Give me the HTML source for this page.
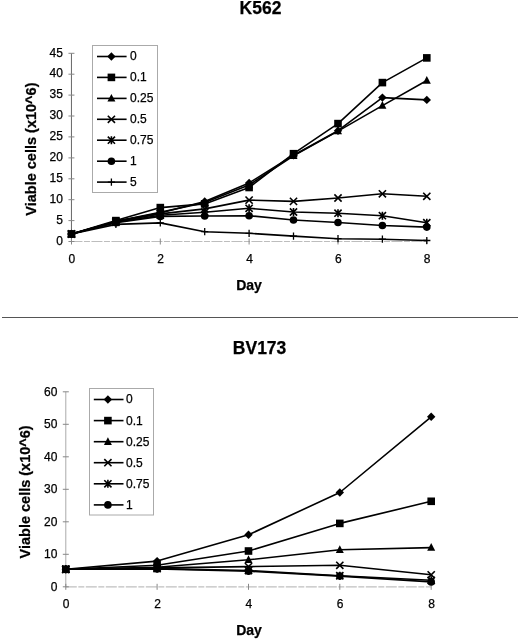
<!DOCTYPE html>
<html><head><meta charset="utf-8"><style>
html,body{margin:0;padding:0;background:#fff;}
body{width:520px;height:641px;overflow:hidden;font-family:"Liberation Sans",sans-serif;}
svg{display:block;filter:grayscale(1);}
</style></head><body>
<svg width="520" height="641" viewBox="0 0 520 641">
<rect width="520" height="641" fill="#fff"/>
<line x1="71.45" y1="53.3" x2="71.45" y2="241.5" stroke="#666" stroke-width="1"/>
<line x1="71.45" y1="241.5" x2="426.8" y2="241.5" stroke="#bdbdbd" stroke-width="1.2" stroke-dasharray="11 1.5 6 1.5"/>
<line x1="68.45" y1="241.5" x2="74.45" y2="241.5" stroke="#888" stroke-width="1"/>
<text x="62.85" y="244.7" text-anchor="end" font-size="12" font-family="Liberation Sans, sans-serif" stroke="#000" stroke-width="0.25">0</text>
<line x1="68.45" y1="220.6" x2="74.45" y2="220.6" stroke="#888" stroke-width="1"/>
<text x="62.85" y="223.8" text-anchor="end" font-size="12" font-family="Liberation Sans, sans-serif" stroke="#000" stroke-width="0.25">5</text>
<line x1="68.45" y1="199.7" x2="74.45" y2="199.7" stroke="#888" stroke-width="1"/>
<text x="62.85" y="202.9" text-anchor="end" font-size="12" font-family="Liberation Sans, sans-serif" stroke="#000" stroke-width="0.25">10</text>
<line x1="68.45" y1="178.8" x2="74.45" y2="178.8" stroke="#888" stroke-width="1"/>
<text x="62.85" y="182.0" text-anchor="end" font-size="12" font-family="Liberation Sans, sans-serif" stroke="#000" stroke-width="0.25">15</text>
<line x1="68.45" y1="157.9" x2="74.45" y2="157.9" stroke="#888" stroke-width="1"/>
<text x="62.85" y="161.1" text-anchor="end" font-size="12" font-family="Liberation Sans, sans-serif" stroke="#000" stroke-width="0.25">20</text>
<line x1="68.45" y1="136.9" x2="74.45" y2="136.9" stroke="#888" stroke-width="1"/>
<text x="62.85" y="140.1" text-anchor="end" font-size="12" font-family="Liberation Sans, sans-serif" stroke="#000" stroke-width="0.25">25</text>
<line x1="68.45" y1="116.0" x2="74.45" y2="116.0" stroke="#888" stroke-width="1"/>
<text x="62.85" y="119.2" text-anchor="end" font-size="12" font-family="Liberation Sans, sans-serif" stroke="#000" stroke-width="0.25">30</text>
<line x1="68.45" y1="95.1" x2="74.45" y2="95.1" stroke="#888" stroke-width="1"/>
<text x="62.85" y="98.3" text-anchor="end" font-size="12" font-family="Liberation Sans, sans-serif" stroke="#000" stroke-width="0.25">35</text>
<line x1="68.45" y1="74.2" x2="74.45" y2="74.2" stroke="#888" stroke-width="1"/>
<text x="62.85" y="77.4" text-anchor="end" font-size="12" font-family="Liberation Sans, sans-serif" stroke="#000" stroke-width="0.25">40</text>
<line x1="68.45" y1="53.3" x2="74.45" y2="53.3" stroke="#888" stroke-width="1"/>
<text x="62.85" y="56.5" text-anchor="end" font-size="12" font-family="Liberation Sans, sans-serif" stroke="#000" stroke-width="0.25">45</text>
<line x1="71.5" y1="238.5" x2="71.5" y2="244.5" stroke="#888" stroke-width="1"/>
<text x="71.9" y="263" text-anchor="middle" font-size="12" font-family="Liberation Sans, sans-serif" stroke="#000" stroke-width="0.25">0</text>
<line x1="160.3" y1="238.5" x2="160.3" y2="244.5" stroke="#888" stroke-width="1"/>
<text x="160.7" y="263" text-anchor="middle" font-size="12" font-family="Liberation Sans, sans-serif" stroke="#000" stroke-width="0.25">2</text>
<line x1="249.1" y1="238.5" x2="249.1" y2="244.5" stroke="#888" stroke-width="1"/>
<text x="249.5" y="263" text-anchor="middle" font-size="12" font-family="Liberation Sans, sans-serif" stroke="#000" stroke-width="0.25">4</text>
<line x1="338.0" y1="238.5" x2="338.0" y2="244.5" stroke="#888" stroke-width="1"/>
<text x="338.4" y="263" text-anchor="middle" font-size="12" font-family="Liberation Sans, sans-serif" stroke="#000" stroke-width="0.25">6</text>
<line x1="426.8" y1="238.5" x2="426.8" y2="244.5" stroke="#888" stroke-width="1"/>
<text x="427.2" y="263" text-anchor="middle" font-size="12" font-family="Liberation Sans, sans-serif" stroke="#000" stroke-width="0.25">8</text>
<text x="260.5" y="14.2" text-anchor="middle" font-size="17.5" font-weight="bold" font-family="Liberation Sans, sans-serif" stroke="#000" stroke-width="0.25">K562</text>
<text x="249" y="290" text-anchor="middle" font-size="14" font-weight="bold" font-family="Liberation Sans, sans-serif" stroke="#000" stroke-width="0.25">Day</text>
<text transform="translate(35.7,149.1) rotate(-90)" text-anchor="middle" font-size="14.5" font-weight="bold" font-family="Liberation Sans, sans-serif" stroke="#000" stroke-width="0.25">Viable cells (x10^6)</text>
<path d="M71.5 234.0L115.9 221.4L160.3 213.1L204.7 201.4L249.1 182.9L293.5 155.3L338.0 130.7L382.4 97.6L426.8 99.9" stroke="#000" stroke-width="1.6" fill="none" stroke-linejoin="round"/>
<path d="M71.5 234.0L115.9 220.6L160.3 207.6L204.7 203.9L249.1 187.5L293.5 153.7L338.0 123.6L382.4 82.6L426.8 57.9" stroke="#000" stroke-width="1.6" fill="none" stroke-linejoin="round"/>
<path d="M71.5 234.0L115.9 221.4L160.3 212.2L204.7 202.6L249.1 185.0L293.5 155.8L338.0 131.1L382.4 105.6L426.8 80.5" stroke="#000" stroke-width="1.6" fill="none" stroke-linejoin="round"/>
<path d="M71.5 234.0L115.9 221.4L160.3 213.9L204.7 208.9L249.1 200.1L293.5 201.4L338.0 198.0L382.4 193.8L426.8 196.3" stroke="#000" stroke-width="1.6" fill="none" stroke-linejoin="round"/>
<path d="M71.5 234.0L115.9 222.3L160.3 215.2L204.7 212.2L249.1 208.3L293.5 212.0L338.0 213.2L382.4 215.7L426.8 222.7" stroke="#000" stroke-width="1.6" fill="none" stroke-linejoin="round"/>
<path d="M71.5 234.0L115.9 222.7L160.3 216.4L204.7 216.0L249.1 215.7L293.5 220.0L338.0 222.5L382.4 225.5L426.8 227.1" stroke="#000" stroke-width="1.6" fill="none" stroke-linejoin="round"/>
<path d="M71.5 234.0L115.9 224.4L160.3 222.9L204.7 231.7L249.1 233.3L293.5 236.1L338.0 238.7L382.4 239.2L426.8 240.5" stroke="#000" stroke-width="1.6" fill="none" stroke-linejoin="round"/>
<path d="M71.5 229.8L75.7 234.0L71.5 238.2L67.2 234.0Z" fill="#000"/>
<path d="M115.9 217.2L120.1 221.4L115.9 225.6L111.7 221.4Z" fill="#000"/>
<path d="M160.3 208.9L164.5 213.1L160.3 217.3L156.1 213.1Z" fill="#000"/>
<path d="M204.7 197.2L208.9 201.4L204.7 205.6L200.5 201.4Z" fill="#000"/>
<path d="M249.1 178.7L253.3 182.9L249.1 187.1L244.9 182.9Z" fill="#000"/>
<path d="M293.5 151.1L297.7 155.3L293.5 159.5L289.3 155.3Z" fill="#000"/>
<path d="M338.0 126.5L342.2 130.7L338.0 134.9L333.8 130.7Z" fill="#000"/>
<path d="M382.4 93.4L386.6 97.6L382.4 101.8L378.2 97.6Z" fill="#000"/>
<path d="M426.8 95.7L431.0 99.9L426.8 104.1L422.6 99.9Z" fill="#000"/>
<rect x="67.7" y="230.2" width="7.6" height="7.6" fill="#000"/>
<rect x="112.1" y="216.8" width="7.6" height="7.6" fill="#000"/>
<rect x="156.5" y="203.8" width="7.6" height="7.6" fill="#000"/>
<rect x="200.9" y="200.1" width="7.6" height="7.6" fill="#000"/>
<rect x="245.3" y="183.7" width="7.6" height="7.6" fill="#000"/>
<rect x="289.7" y="149.9" width="7.6" height="7.6" fill="#000"/>
<rect x="334.2" y="119.8" width="7.6" height="7.6" fill="#000"/>
<rect x="378.6" y="78.8" width="7.6" height="7.6" fill="#000"/>
<rect x="423.0" y="54.1" width="7.6" height="7.6" fill="#000"/>
<path d="M71.5 229.5L75.5 237.2L67.5 237.2Z" fill="#000"/>
<path d="M115.9 216.9L119.9 224.6L111.9 224.6Z" fill="#000"/>
<path d="M160.3 207.7L164.3 215.4L156.3 215.4Z" fill="#000"/>
<path d="M204.7 198.1L208.7 205.8L200.7 205.8Z" fill="#000"/>
<path d="M249.1 180.5L253.1 188.2L245.1 188.2Z" fill="#000"/>
<path d="M293.5 151.3L297.5 159.0L289.5 159.0Z" fill="#000"/>
<path d="M338.0 126.6L342.0 134.3L334.0 134.3Z" fill="#000"/>
<path d="M382.4 101.1L386.4 108.8L378.4 108.8Z" fill="#000"/>
<path d="M426.8 76.0L430.8 83.7L422.8 83.7Z" fill="#000"/>
<path d="M67.9 230.4L75.0 237.6M75.0 230.4L67.9 237.6" stroke="#000" stroke-width="1.6" fill="none"/>
<path d="M112.3 217.8L119.5 225.0M119.5 217.8L112.3 225.0" stroke="#000" stroke-width="1.6" fill="none"/>
<path d="M156.7 210.3L163.9 217.5M163.9 210.3L156.7 217.5" stroke="#000" stroke-width="1.6" fill="none"/>
<path d="M201.1 205.3L208.3 212.5M208.3 205.3L201.1 212.5" stroke="#000" stroke-width="1.6" fill="none"/>
<path d="M245.5 196.5L252.7 203.7M252.7 196.5L245.5 203.7" stroke="#000" stroke-width="1.6" fill="none"/>
<path d="M289.9 197.8L297.1 205.0M297.1 197.8L289.9 205.0" stroke="#000" stroke-width="1.6" fill="none"/>
<path d="M334.4 194.4L341.6 201.6M341.6 194.4L334.4 201.6" stroke="#000" stroke-width="1.6" fill="none"/>
<path d="M378.8 190.2L386.0 197.4M386.0 190.2L378.8 197.4" stroke="#000" stroke-width="1.6" fill="none"/>
<path d="M423.2 192.7L430.4 199.9M430.4 192.7L423.2 199.9" stroke="#000" stroke-width="1.6" fill="none"/>
<path d="M67.9 230.4L75.0 237.6M75.0 230.4L67.9 237.6M71.5 230.0L71.5 238.0" stroke="#000" stroke-width="1.6" fill="none"/>
<path d="M112.3 218.7L119.5 225.9M119.5 218.7L112.3 225.9M115.9 218.3L115.9 226.3" stroke="#000" stroke-width="1.6" fill="none"/>
<path d="M156.7 211.6L163.9 218.8M163.9 211.6L156.7 218.8M160.3 211.2L160.3 219.2" stroke="#000" stroke-width="1.6" fill="none"/>
<path d="M201.1 208.6L208.3 215.8M208.3 208.6L201.1 215.8M204.7 208.2L204.7 216.2" stroke="#000" stroke-width="1.6" fill="none"/>
<path d="M245.5 204.7L252.7 211.9M252.7 204.7L245.5 211.9M249.1 204.3L249.1 212.3" stroke="#000" stroke-width="1.6" fill="none"/>
<path d="M289.9 208.4L297.1 215.6M297.1 208.4L289.9 215.6M293.5 208.0L293.5 216.0" stroke="#000" stroke-width="1.6" fill="none"/>
<path d="M334.4 209.6L341.6 216.8M341.6 209.6L334.4 216.8M338.0 209.2L338.0 217.2" stroke="#000" stroke-width="1.6" fill="none"/>
<path d="M378.8 212.1L386.0 219.3M386.0 212.1L378.8 219.3M382.4 211.7L382.4 219.7" stroke="#000" stroke-width="1.6" fill="none"/>
<path d="M423.2 219.1L430.4 226.3M430.4 219.1L423.2 226.3M426.8 218.7L426.8 226.7" stroke="#000" stroke-width="1.6" fill="none"/>
<circle cx="71.5" cy="234.0" r="3.8" fill="#000"/>
<circle cx="115.9" cy="222.7" r="3.8" fill="#000"/>
<circle cx="160.3" cy="216.4" r="3.8" fill="#000"/>
<circle cx="204.7" cy="216.0" r="3.8" fill="#000"/>
<circle cx="249.1" cy="215.7" r="3.8" fill="#000"/>
<circle cx="293.5" cy="220.0" r="3.8" fill="#000"/>
<circle cx="338.0" cy="222.5" r="3.8" fill="#000"/>
<circle cx="382.4" cy="225.5" r="3.8" fill="#000"/>
<circle cx="426.8" cy="227.1" r="3.8" fill="#000"/>
<path d="M67.9 234.0L75.0 234.0M71.5 230.4L71.5 237.6" stroke="#000" stroke-width="1.3" fill="none"/>
<path d="M112.3 224.4L119.5 224.4M115.9 220.8L115.9 228.0" stroke="#000" stroke-width="1.3" fill="none"/>
<path d="M156.7 222.9L163.9 222.9M160.3 219.3L160.3 226.5" stroke="#000" stroke-width="1.3" fill="none"/>
<path d="M201.1 231.7L208.3 231.7M204.7 228.1L204.7 235.3" stroke="#000" stroke-width="1.3" fill="none"/>
<path d="M245.5 233.3L252.7 233.3M249.1 229.7L249.1 236.9" stroke="#000" stroke-width="1.3" fill="none"/>
<path d="M289.9 236.1L297.1 236.1M293.5 232.5L293.5 239.7" stroke="#000" stroke-width="1.3" fill="none"/>
<path d="M334.4 238.7L341.6 238.7M338.0 235.1L338.0 242.3" stroke="#000" stroke-width="1.3" fill="none"/>
<path d="M378.8 239.2L386.0 239.2M382.4 235.6L382.4 242.8" stroke="#000" stroke-width="1.3" fill="none"/>
<path d="M423.2 240.5L430.4 240.5M426.8 236.9L426.8 244.1" stroke="#000" stroke-width="1.3" fill="none"/>
<rect x="92.5" y="45.5" width="65" height="147" fill="#fff" stroke="#aaa" stroke-width="1"/>
<line x1="97" y1="56.5" x2="126.6" y2="56.5" stroke="#000" stroke-width="1.6"/>
<path d="M111.4 52.3L115.6 56.5L111.4 60.7L107.2 56.5Z" fill="#000"/>
<text x="130" y="60.4" font-size="12" font-family="Liberation Sans, sans-serif" stroke="#000" stroke-width="0.25">0</text>
<line x1="97" y1="77.4" x2="126.6" y2="77.4" stroke="#000" stroke-width="1.6"/>
<rect x="107.6" y="73.6" width="7.6" height="7.6" fill="#000"/>
<text x="130" y="81.3" font-size="12" font-family="Liberation Sans, sans-serif" stroke="#000" stroke-width="0.25">0.1</text>
<line x1="97" y1="98.4" x2="126.6" y2="98.4" stroke="#000" stroke-width="1.6"/>
<path d="M111.4 93.9L115.4 101.6L107.4 101.6Z" fill="#000"/>
<text x="130" y="102.3" font-size="12" font-family="Liberation Sans, sans-serif" stroke="#000" stroke-width="0.25">0.25</text>
<line x1="97" y1="119.3" x2="126.6" y2="119.3" stroke="#000" stroke-width="1.6"/>
<path d="M107.8 115.7L115.0 122.9M115.0 115.7L107.8 122.9" stroke="#000" stroke-width="1.6" fill="none"/>
<text x="130" y="123.2" font-size="12" font-family="Liberation Sans, sans-serif" stroke="#000" stroke-width="0.25">0.5</text>
<line x1="97" y1="140.2" x2="126.6" y2="140.2" stroke="#000" stroke-width="1.6"/>
<path d="M107.8 136.6L115.0 143.8M115.0 136.6L107.8 143.8M111.4 136.2L111.4 144.2" stroke="#000" stroke-width="1.6" fill="none"/>
<text x="130" y="144.1" font-size="12" font-family="Liberation Sans, sans-serif" stroke="#000" stroke-width="0.25">0.75</text>
<line x1="97" y1="161.2" x2="126.6" y2="161.2" stroke="#000" stroke-width="1.6"/>
<circle cx="111.4" cy="161.2" r="3.8" fill="#000"/>
<text x="130" y="165.1" font-size="12" font-family="Liberation Sans, sans-serif" stroke="#000" stroke-width="0.25">1</text>
<line x1="97" y1="182.1" x2="126.6" y2="182.1" stroke="#000" stroke-width="1.6"/>
<path d="M107.8 182.1L115.0 182.1M111.4 178.5L111.4 185.7" stroke="#000" stroke-width="1.3" fill="none"/>
<text x="130" y="186.0" font-size="12" font-family="Liberation Sans, sans-serif" stroke="#000" stroke-width="0.25">5</text>
<line x1="2" y1="317.5" x2="518" y2="317.5" stroke="#555" stroke-width="1"/>
<line x1="65.8" y1="391.8" x2="65.8" y2="586.8" stroke="#aaa" stroke-width="1"/>
<line x1="65.8" y1="586.8" x2="431.2" y2="586.8" stroke="#c0c0c0" stroke-width="1.2" stroke-dasharray="11 1.5 6 1.5"/>
<line x1="62.8" y1="586.8" x2="68.8" y2="586.8" stroke="#888" stroke-width="1"/>
<text x="57.4" y="590.7" text-anchor="end" font-size="12" font-family="Liberation Sans, sans-serif" stroke="#000" stroke-width="0.25">0</text>
<line x1="62.8" y1="554.3" x2="68.8" y2="554.3" stroke="#888" stroke-width="1"/>
<text x="57.4" y="558.2" text-anchor="end" font-size="12" font-family="Liberation Sans, sans-serif" stroke="#000" stroke-width="0.25">10</text>
<line x1="62.8" y1="521.8" x2="68.8" y2="521.8" stroke="#888" stroke-width="1"/>
<text x="57.4" y="525.7" text-anchor="end" font-size="12" font-family="Liberation Sans, sans-serif" stroke="#000" stroke-width="0.25">20</text>
<line x1="62.8" y1="489.3" x2="68.8" y2="489.3" stroke="#888" stroke-width="1"/>
<text x="57.4" y="493.2" text-anchor="end" font-size="12" font-family="Liberation Sans, sans-serif" stroke="#000" stroke-width="0.25">30</text>
<line x1="62.8" y1="456.8" x2="68.8" y2="456.8" stroke="#888" stroke-width="1"/>
<text x="57.4" y="460.7" text-anchor="end" font-size="12" font-family="Liberation Sans, sans-serif" stroke="#000" stroke-width="0.25">40</text>
<line x1="62.8" y1="424.3" x2="68.8" y2="424.3" stroke="#888" stroke-width="1"/>
<text x="57.4" y="428.2" text-anchor="end" font-size="12" font-family="Liberation Sans, sans-serif" stroke="#000" stroke-width="0.25">50</text>
<line x1="62.8" y1="391.8" x2="68.8" y2="391.8" stroke="#888" stroke-width="1"/>
<text x="57.4" y="395.7" text-anchor="end" font-size="12" font-family="Liberation Sans, sans-serif" stroke="#000" stroke-width="0.25">60</text>
<line x1="65.8" y1="583.8" x2="65.8" y2="589.8" stroke="#888" stroke-width="1"/>
<text x="66.2" y="608" text-anchor="middle" font-size="12" font-family="Liberation Sans, sans-serif" stroke="#000" stroke-width="0.25">0</text>
<line x1="157.1" y1="583.8" x2="157.1" y2="589.8" stroke="#888" stroke-width="1"/>
<text x="157.5" y="608" text-anchor="middle" font-size="12" font-family="Liberation Sans, sans-serif" stroke="#000" stroke-width="0.25">2</text>
<line x1="248.5" y1="583.8" x2="248.5" y2="589.8" stroke="#888" stroke-width="1"/>
<text x="248.9" y="608" text-anchor="middle" font-size="12" font-family="Liberation Sans, sans-serif" stroke="#000" stroke-width="0.25">4</text>
<line x1="339.8" y1="583.8" x2="339.8" y2="589.8" stroke="#888" stroke-width="1"/>
<text x="340.2" y="608" text-anchor="middle" font-size="12" font-family="Liberation Sans, sans-serif" stroke="#000" stroke-width="0.25">6</text>
<line x1="431.2" y1="583.8" x2="431.2" y2="589.8" stroke="#888" stroke-width="1"/>
<text x="431.6" y="608" text-anchor="middle" font-size="12" font-family="Liberation Sans, sans-serif" stroke="#000" stroke-width="0.25">8</text>
<text x="259.6" y="353.8" text-anchor="middle" font-size="17.5" font-weight="bold" font-family="Liberation Sans, sans-serif" stroke="#000" stroke-width="0.25">BV173</text>
<text x="249" y="635" text-anchor="middle" font-size="14" font-weight="bold" font-family="Liberation Sans, sans-serif" stroke="#000" stroke-width="0.25">Day</text>
<text transform="translate(30,491.9) rotate(-90)" text-anchor="middle" font-size="14.5" font-weight="bold" font-family="Liberation Sans, sans-serif" stroke="#000" stroke-width="0.25">Viable cells (x10^6)</text>
<path d="M65.8 569.2L157.1 561.1L248.5 534.8L339.8 492.5L431.2 416.8" stroke="#000" stroke-width="1.6" fill="none" stroke-linejoin="round"/>
<path d="M65.8 569.2L157.1 565.2L248.5 551.0L339.8 523.4L431.2 501.3" stroke="#000" stroke-width="1.6" fill="none" stroke-linejoin="round"/>
<path d="M65.8 569.2L157.1 567.3L248.5 559.8L339.8 549.8L431.2 547.6" stroke="#000" stroke-width="1.6" fill="none" stroke-linejoin="round"/>
<path d="M65.8 569.2L157.1 567.9L248.5 566.6L339.8 565.3L431.2 574.8" stroke="#000" stroke-width="1.6" fill="none" stroke-linejoin="round"/>
<path d="M65.8 569.2L157.1 568.6L248.5 570.5L339.8 575.8L431.2 580.3" stroke="#000" stroke-width="1.6" fill="none" stroke-linejoin="round"/>
<path d="M65.8 569.2L157.1 568.9L248.5 571.2L339.8 576.1L431.2 581.9" stroke="#000" stroke-width="1.6" fill="none" stroke-linejoin="round"/>
<path d="M65.8 565.0L70.0 569.2L65.8 573.5L61.6 569.2Z" fill="#000"/>
<path d="M157.1 556.9L161.3 561.1L157.1 565.3L152.9 561.1Z" fill="#000"/>
<path d="M248.5 530.6L252.7 534.8L248.5 539.0L244.3 534.8Z" fill="#000"/>
<path d="M339.8 488.3L344.0 492.5L339.8 496.7L335.6 492.5Z" fill="#000"/>
<path d="M431.2 412.6L435.4 416.8L431.2 421.0L427.0 416.8Z" fill="#000"/>
<rect x="62.0" y="565.5" width="7.6" height="7.6" fill="#000"/>
<rect x="153.3" y="561.4" width="7.6" height="7.6" fill="#000"/>
<rect x="244.7" y="547.2" width="7.6" height="7.6" fill="#000"/>
<rect x="336.0" y="519.6" width="7.6" height="7.6" fill="#000"/>
<rect x="427.4" y="497.5" width="7.6" height="7.6" fill="#000"/>
<path d="M65.8 564.8L69.8 572.5L61.8 572.5Z" fill="#000"/>
<path d="M157.1 562.8L161.1 570.5L153.1 570.5Z" fill="#000"/>
<path d="M248.5 555.3L252.5 563.0L244.5 563.0Z" fill="#000"/>
<path d="M339.8 545.2L343.8 553.0L335.8 553.0Z" fill="#000"/>
<path d="M431.2 543.1L435.2 550.8L427.2 550.8Z" fill="#000"/>
<path d="M62.2 565.6L69.4 572.9M69.4 565.6L62.2 572.9" stroke="#000" stroke-width="1.6" fill="none"/>
<path d="M153.5 564.3L160.7 571.5M160.7 564.3L153.5 571.5" stroke="#000" stroke-width="1.6" fill="none"/>
<path d="M244.9 563.0L252.1 570.2M252.1 563.0L244.9 570.2" stroke="#000" stroke-width="1.6" fill="none"/>
<path d="M336.2 561.7L343.4 568.9M343.4 561.7L336.2 568.9" stroke="#000" stroke-width="1.6" fill="none"/>
<path d="M427.6 571.2L434.8 578.4M434.8 571.2L427.6 578.4" stroke="#000" stroke-width="1.6" fill="none"/>
<path d="M62.2 565.6L69.4 572.9M69.4 565.6L62.2 572.9M65.8 565.2L65.8 573.2" stroke="#000" stroke-width="1.6" fill="none"/>
<path d="M153.5 565.0L160.7 572.2M160.7 565.0L153.5 572.2M157.1 564.6L157.1 572.6" stroke="#000" stroke-width="1.6" fill="none"/>
<path d="M244.9 566.9L252.1 574.1M252.1 566.9L244.9 574.1M248.5 566.5L248.5 574.5" stroke="#000" stroke-width="1.6" fill="none"/>
<path d="M336.2 572.1L343.4 579.4M343.4 572.1L336.2 579.4M339.8 571.8L339.8 579.8" stroke="#000" stroke-width="1.6" fill="none"/>
<path d="M427.6 576.7L434.8 583.9M434.8 576.7L427.6 583.9M431.2 576.3L431.2 584.3" stroke="#000" stroke-width="1.6" fill="none"/>
<circle cx="65.8" cy="569.2" r="3.8" fill="#000"/>
<circle cx="157.1" cy="568.9" r="3.8" fill="#000"/>
<circle cx="248.5" cy="571.2" r="3.8" fill="#000"/>
<circle cx="339.8" cy="576.1" r="3.8" fill="#000"/>
<circle cx="431.2" cy="581.9" r="3.8" fill="#000"/>
<rect x="89.5" y="388.5" width="64" height="126.5" fill="#fff" stroke="#aaa" stroke-width="1"/>
<line x1="93.8" y1="399.5" x2="123.5" y2="399.5" stroke="#000" stroke-width="1.6"/>
<path d="M107.9 395.3L112.1 399.5L107.9 403.7L103.7 399.5Z" fill="#000"/>
<text x="126" y="403.4" font-size="12" font-family="Liberation Sans, sans-serif" stroke="#000" stroke-width="0.25">0</text>
<line x1="93.8" y1="420.6" x2="123.5" y2="420.6" stroke="#000" stroke-width="1.6"/>
<rect x="104.1" y="416.8" width="7.6" height="7.6" fill="#000"/>
<text x="126" y="424.5" font-size="12" font-family="Liberation Sans, sans-serif" stroke="#000" stroke-width="0.25">0.1</text>
<line x1="93.8" y1="441.7" x2="123.5" y2="441.7" stroke="#000" stroke-width="1.6"/>
<path d="M107.9 437.2L111.9 444.9L103.9 444.9Z" fill="#000"/>
<text x="126" y="445.6" font-size="12" font-family="Liberation Sans, sans-serif" stroke="#000" stroke-width="0.25">0.25</text>
<line x1="93.8" y1="462.7" x2="123.5" y2="462.7" stroke="#000" stroke-width="1.6"/>
<path d="M104.3 459.1L111.5 466.3M111.5 459.1L104.3 466.3" stroke="#000" stroke-width="1.6" fill="none"/>
<text x="126" y="466.6" font-size="12" font-family="Liberation Sans, sans-serif" stroke="#000" stroke-width="0.25">0.5</text>
<line x1="93.8" y1="483.8" x2="123.5" y2="483.8" stroke="#000" stroke-width="1.6"/>
<path d="M104.3 480.2L111.5 487.4M111.5 480.2L104.3 487.4M107.9 479.8L107.9 487.8" stroke="#000" stroke-width="1.6" fill="none"/>
<text x="126" y="487.7" font-size="12" font-family="Liberation Sans, sans-serif" stroke="#000" stroke-width="0.25">0.75</text>
<line x1="93.8" y1="504.9" x2="123.5" y2="504.9" stroke="#000" stroke-width="1.6"/>
<circle cx="107.9" cy="504.9" r="3.8" fill="#000"/>
<text x="126" y="508.8" font-size="12" font-family="Liberation Sans, sans-serif" stroke="#000" stroke-width="0.25">1</text>
</svg>
</body></html>
